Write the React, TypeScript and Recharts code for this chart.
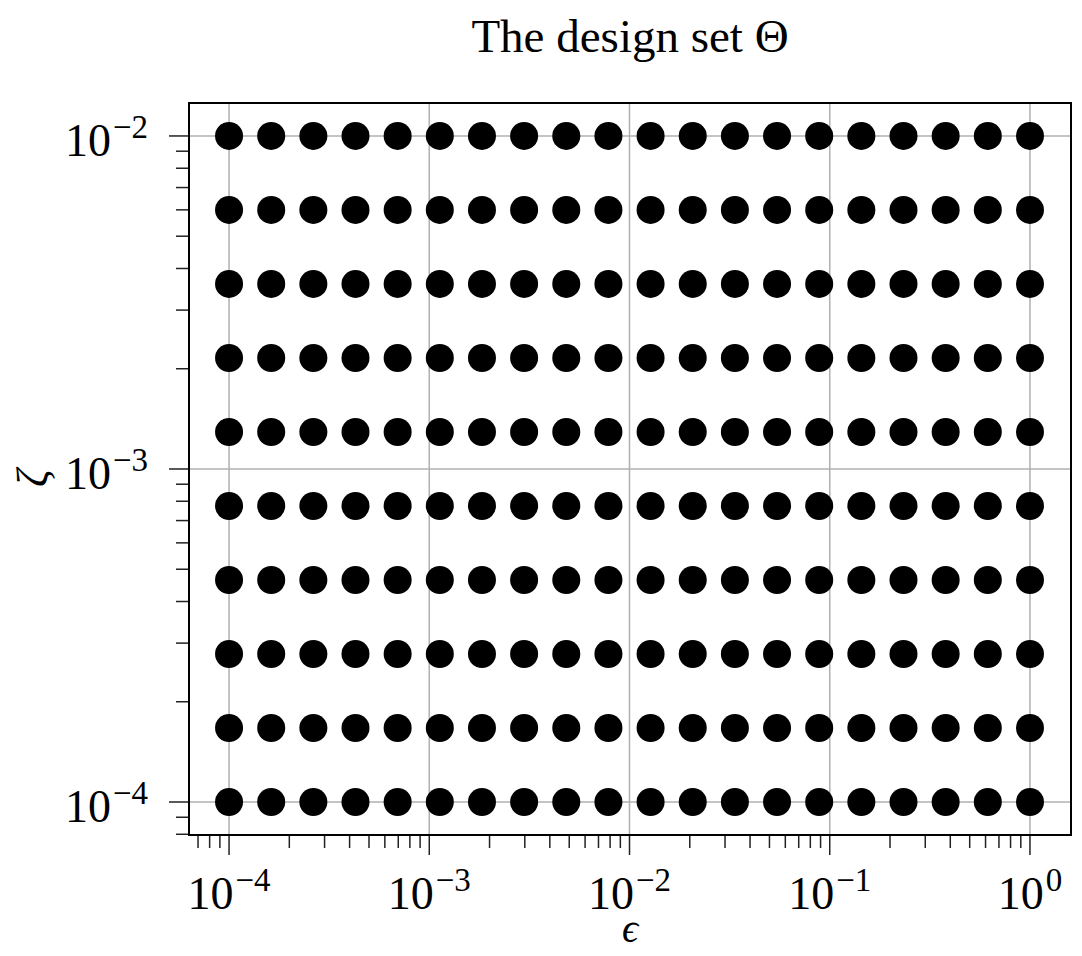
import { CartesianGrid, ReferenceArea, Scatter, ScatterChart, XAxis, YAxis } from "recharts";

// 20 log-spaced epsilon values, 10 log-spaced zeta values
const epsValues = [
  1e-4, 1.6238e-4, 2.6367e-4, 4.2813e-4, 6.9519e-4,
  1.1288e-3, 1.833e-3, 2.9764e-3, 4.8329e-3, 7.8476e-3,
  1.2743e-2, 2.0691e-2, 3.3598e-2, 5.4556e-2, 8.8587e-2,
  0.14384, 0.23357, 0.37927, 0.61585, 1,
];
const zetaValues = [
  1e-4, 1.6681e-4, 2.7826e-4, 4.6416e-4, 7.7426e-4,
  1.2915e-3, 2.1544e-3, 3.5938e-3, 5.9948e-3, 1e-2,
];

const xMajor = [1e-4, 1e-3, 1e-2, 1e-1, 1];
const xMinor = [
  7e-5, 8e-5, 9e-5,
  2e-4, 3e-4, 4e-4, 5e-4, 6e-4, 7e-4, 8e-4, 9e-4,
  2e-3, 3e-3, 4e-3, 5e-3, 6e-3, 7e-3, 8e-3, 9e-3,
  2e-2, 3e-2, 4e-2, 5e-2, 6e-2, 7e-2, 8e-2, 9e-2,
  0.2, 0.3, 0.4, 0.5, 0.6, 0.7, 0.8, 0.9,
];
const yMajor = [1e-4, 1e-3, 1e-2];
const yMinor = [
  8e-5, 9e-5,
  2e-4, 3e-4, 4e-4, 5e-4, 6e-4, 7e-4, 8e-4, 9e-4,
  2e-3, 3e-3, 4e-3, 5e-3, 6e-3, 7e-3, 8e-3, 9e-3,
];

const xDomain = [6.31e-5, 1.603];
const yDomain = [7.96e-5, 1.256e-2];

const data = zetaValues.flatMap((z) => epsValues.map((e) => ({ eps: e, zeta: z })));

const FONT = "'Liberation Serif', 'DejaVu Serif', serif";
const isMajor = (list: number[], v: number) => list.some((m) => Math.abs(v / m - 1) < 1e-6);
const expOf = (v: number) => {
  const e = Math.round(Math.log10(v));
  return e < 0 ? `\u2212${-e}` : `${e}`;
};

function XTick({ x, y, payload }: any) {
  const major = isMajor(xMajor, payload.value);
  return (
    <g>
      <line x1={x} x2={x} y1={y + 1} y2={y + (major ? 20 : 13)} stroke="#222" strokeWidth={1.5} />
      {major && (
        <text x={x} y={y + 74} textAnchor="middle" fontFamily={FONT} fontSize={46} fill="#000">
          10<tspan dx={2} dy={-18} fontSize={33}>{expOf(payload.value)}</tspan>
        </text>
      )}
    </g>
  );
}

function YTick({ x, y, payload }: any) {
  const major = isMajor(yMajor, payload.value);
  return (
    <g>
      <line x1={x - 1} x2={x - (major ? 20 : 13)} y1={y} y2={y} stroke="#222" strokeWidth={1.5} />
      {major && (
        <text x={x - 41} y={y + 20} textAnchor="end" fontFamily={FONT} fontSize={46} fill="#000">
          10<tspan dx={2} dy={-18} fontSize={33}>{expOf(payload.value)}</tspan>
        </text>
      )}
    </g>
  );
}

export default function App() {
  return (
    <div style={{ position: "absolute", left: 0, top: 0, width: 1082, height: 956, background: "#fff" }}>
      <ScatterChart width={1082} height={956} margin={{ top: 103, right: 11, bottom: 0, left: 0 }}>
        {/* hidden axes that carry only the decade ticks, so the grid sits on majors only */}
        <XAxis xAxisId="grid" type="number" dataKey="eps" scale="log" domain={xDomain} allowDataOverflow ticks={xMajor} hide />
        <YAxis yAxisId="grid" type="number" dataKey="zeta" scale="log" domain={yDomain} allowDataOverflow ticks={yMajor} hide />
        <CartesianGrid xAxisId="grid" yAxisId="grid" stroke="#b0b0b0" strokeWidth={1.5} />
        <XAxis
          type="number"
          dataKey="eps"
          scale="log"
          domain={xDomain}
          allowDataOverflow
          ticks={[...xMinor, ...xMajor].sort((a, b) => a - b)}
          interval={0}
          tick={<XTick />}
          tickLine={false}
          tickSize={0}
          tickMargin={0}
          axisLine={false}
          height={121}
        />
        <YAxis
          type="number"
          dataKey="zeta"
          scale="log"
          domain={yDomain}
          allowDataOverflow
          ticks={[...yMinor, ...yMajor].sort((a, b) => a - b)}
          interval={0}
          tick={<YTick />}
          tickLine={false}
          tickSize={0}
          tickMargin={0}
          axisLine={false}
          width={189}
        />
        <ReferenceArea
          x1={xDomain[0]}
          x2={xDomain[1]}
          y1={yDomain[0]}
          y2={yDomain[1]}
          fill="none"
          stroke="#000"
          strokeWidth={2}
          ifOverflow="visible"
        />
        <Scatter
          data={data}
          isAnimationActive={false}
          shape={(p: any) => <circle cx={p.cx} cy={p.cy} r={14} fill="#000" />}
        />
      </ScatterChart>
      <div
        style={{
          position: "absolute", left: 0, width: 1260, top: 12, textAlign: "center",
          fontFamily: FONT, fontSize: 47, lineHeight: "48px", color: "#000",
        }}
      >
        The design set Θ
      </div>
      <div
        style={{
          position: "absolute", left: 430, width: 400, top: 917, textAlign: "center",
          fontFamily: FONT, fontSize: 40, fontStyle: "italic", lineHeight: "24px", color: "#000",
        }}
      >
        ϵ
      </div>
      <div
        style={{
          position: "absolute", left: 33, top: 478, transform: "translate(-50%, -50%) rotate(-90deg)",
          fontFamily: FONT, fontSize: 44, fontStyle: "italic", lineHeight: "48px", color: "#000",
        }}
      >
        ζ
      </div>
    </div>
  );
}
